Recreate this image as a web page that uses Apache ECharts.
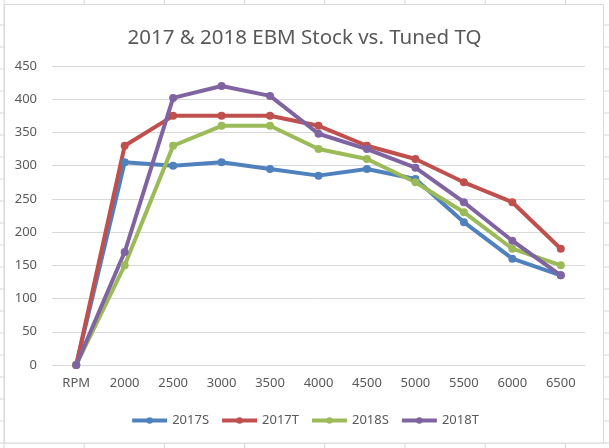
<!DOCTYPE html>
<html><head><meta charset="utf-8">
<script src="https://cdn.jsdelivr.net/npm/echarts@6/dist/echarts.min.js"></script>
<style>html,body{margin:0;padding:0;background:#fff}#c{width:609px;height:448px}</style>
</head><body><div id="c"></div>
<script>
const categories = ['RPM','2000','2500','3000','3500','4000','4500','5000','5500','6000','6500'];
const s2017S = [0, 305, 300, 305, 295, 285, 295, 280, 215, 160, 135];
const s2017T = [0, 330, 375, 375, 375, 360, 330, 310, 275, 245, 175];
const s2018S = [0, 150, 330, 360, 360, 325, 310, 275, 230, 175, 150];
const s2018T = [0, 170, 402, 420, 405, 348, 325, 297, 245, 187, 135];
const seriesNames = ['2017S','2017T','2018S','2018T'];
const colors = ['#4F81BD','#C0504D','#9BBB59','#8064A2'];
const titleText = '2017 & 2018 EBM Stock vs. Tuned TQ';

const sheetLine = '#d6d6d6';
const graphics = [];
for (let i = 0; i < 8; i++) {
  const x = 4 + i * 80.2;
  graphics.push({type:'line', z:-10, shape:{x1:x,y1:0,x2:x,y2:448}, style:{stroke:sheetLine,lineWidth:1}});
}
for (let k = 0; k < 20; k++) {
  const y = 25 + k * 22;
  graphics.push({type:'line', z:-10, shape:{x1:0,y1:y,x2:609,y2:y}, style:{stroke:sheetLine,lineWidth:1}});
}
graphics.push({type:'rect', z:-5, shape:{x:4.5,y:4.5,width:599,height:438.5}, style:{fill:'#fff',stroke:'#d9d9d9',lineWidth:1}});

const data = [s2017S, s2017T, s2018S, s2018T];
const chart = echarts.init(document.getElementById('c'));
chart.setOption({
  animation:false,
  backgroundColor:'#fff',
  graphic: graphics,
  title:{text:titleText, left:'center', top:23, textStyle:{fontFamily:'Noto Sans', fontSize:20.5, fontWeight:'normal', color:'#595959'}},
  legend:{
    data: seriesNames, bottom:16, left:'center', itemWidth:35, itemHeight:8, itemGap:11, itemTextGap:0,
    lineStyle:{width:4},
    textStyle:{fontFamily:'Noto Sans', fontSize:13, color:'#595959'}
  },
  grid:{left:52, right:24, top:66, bottom:83, containLabel:false},
  xAxis:{
    type:'category', data:categories, boundaryGap:true,
    axisLine:{show:true, lineStyle:{color:'#d9d9d9'}}, axisTick:{show:false},
    axisLabel:{fontFamily:'Noto Sans', fontSize:13, color:'#595959', margin:12}
  },
  yAxis:{
    type:'value', min:0, max:450, interval:50,
    axisLine:{show:false}, axisTick:{show:false},
    splitLine:{lineStyle:{color:'#d9d9d9'}},
    axisLabel:{fontFamily:'Noto Sans', fontSize:13, color:'#595959', margin:15}
  },
  series: seriesNames.map((n,i)=>({
    name:n, type:'line', data:data[i], symbol:'circle', symbolSize:8,
    itemStyle:{color:colors[i]}, lineStyle:{width:4, color:colors[i]}
  }))
});
</script></body></html>
